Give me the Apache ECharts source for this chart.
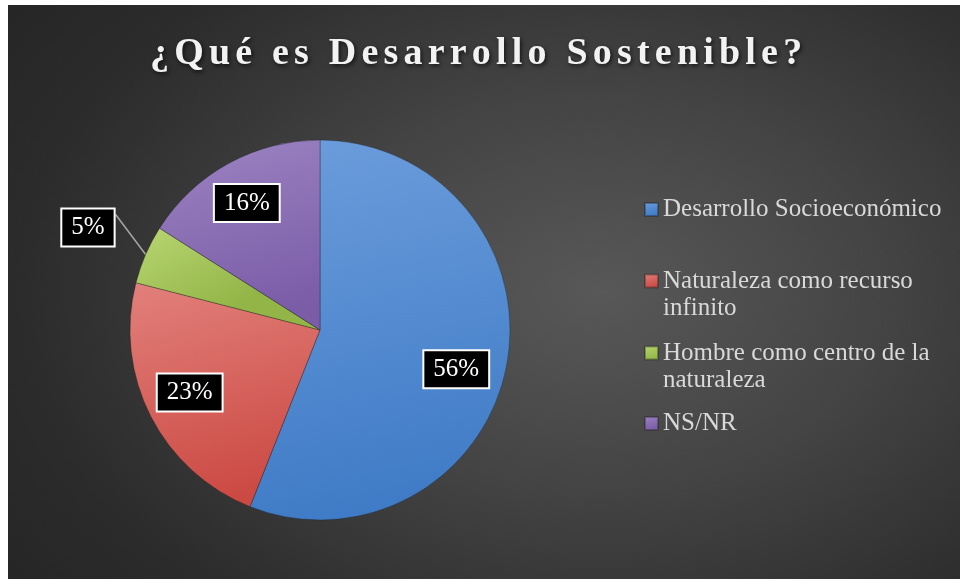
<!DOCTYPE html>
<html><head><meta charset="utf-8">
<script src="https://cdn.jsdelivr.net/npm/echarts@6/dist/echarts.min.js"></script>
<style>
html,body{margin:0;padding:0;background:#fff;width:960px;height:579px;overflow:hidden}
#c{position:absolute;left:8px;top:5px;width:952px;height:574px;
background:radial-gradient(ellipse 75% 85% at 62% 50%, #585858 0%, #444 40%, #2c2c2c 80%, #262626 100%);}
</style></head><body><div id="c"></div>
<script>
const titleText = '¿Qué es Desarrollo Sostenible?';
const categories = ['Desarrollo Socioeconómico', 'Naturaleza como recurso infinito', 'Hombre como centro de la naturaleza', 'NS/NR'];
const values = [56, 23, 5, 16];
const legendLines = [['Desarrollo Socioeconómico'], ['Naturaleza como recurso', 'infinito'], ['Hombre como centro de la', 'naturaleza'], ['NS/NR']];

// styling
const sliceColors = [['#6c9ddc', '#3f7bc6'], ['#e2807b', '#cc4a44'], ['#b8d672', '#93b547'], ['#9c84c2', '#7a5ca7']];
const legendIconCenters = [204.5, 276, 348, 418.5];
const labelShift = [[40, 21], [-43, 18], null, [-26, -41]];
const FONT = 'Liberation Serif';
const TITLE_SPACING = 5.2;

const chart = echarts.init(document.getElementById('c'));

const legends = categories.map((name, i) => {
  const lines = legendLines[i];
  const two = lines.length > 1;
  return {
    orient: 'vertical', left: 636,
    top: legendIconCenters[i] - (two ? 40.5 : 13.5),
    padding: 0, selectedMode: false,
    itemWidth: 13, itemHeight: 13, itemGap: 0,
    icon: 'rect',
    data: [name],
    formatter: () => two ? ' \n' + lines.join('\n') : lines[0],
    textStyle: { color: '#d9d9d9', fontFamily: FONT, fontSize: 25, lineHeight: 27 }
  };
});

const data = categories.map((name, i) => {
  const item = {
    name, value: values[i],
    itemStyle: {
      color: { type: 'linear', x: 0, y: 0, x2: 0.3, y2: 1, colorStops: [{ offset: 0, color: sliceColors[i][0] }, { offset: 1, color: sliceColors[i][1] }] }
    }
  };
  if (!labelShift[i]) {
    item.label = { position: 'outside' };
    item.labelLine = { show: true, length: 20, length2: 10, lineStyle: { color: '#a6a6a6', width: 1.5 } };
  }
  return item;
});

// title drawn as rich text, one token per character so it can carry the letter spacing
const titleRich = Array.from(titleText).map(ch => '{s|' + ch + '}').join('');

chart.setOption({
  animation: false,
  title: {
    text: titleRich, left: 137, top: 23,
    textStyle: {
      color: '#f2f2f2', fontFamily: FONT, fontWeight: 'bold', fontSize: 38,
      rich: {
        s: {
          color: '#f2f2f2', fontFamily: FONT, fontWeight: 'bold', fontSize: 38, lineHeight: 42,
          padding: [0, TITLE_SPACING, 0, 0],
          textShadowColor: 'rgba(0,0,0,0.65)', textShadowBlur: 4, textShadowOffsetX: 1.5, textShadowOffsetY: 2
        }
      }
    }
  },
  legend: legends,
  series: [{
    type: 'pie',
    center: [312, 325], radius: 190,
    startAngle: 90, clockwise: true,
    avoidLabelOverlap: false,
    itemStyle: { borderColor: 'rgba(30,30,30,0.35)', borderWidth: 1 },
    label: {
      show: true, position: 'inside', formatter: '{d}%',
      color: '#fff', backgroundColor: '#000', borderColor: '#fff', borderWidth: 2,
      padding: [5, 9, 3, 9], fontFamily: FONT, fontSize: 25, lineHeight: 28
    },
    labelLine: { show: false },
    labelLayout: function (p) {
      const s = labelShift[p.dataIndex];
      if (s) return { dx: s[0], dy: s[1] };
      const a = p.labelLinePoints ? p.labelLinePoints[0] : null;
      const r = p.labelRect;
      if (!a) return {};
      const right = a[0] - 30, top = a[1] - 47;
      const dx = right - (r.x + r.width), dy = top - r.y;
      const end = [a[0] - 30, a[1] - 40];
      return { dx, dy, labelLinePoints: [a, [(a[0] + end[0]) / 2, (a[1] + end[1]) / 2], end] };
    },
    emphasis: { disabled: true },
    data
  }]
});
</script></body></html>
